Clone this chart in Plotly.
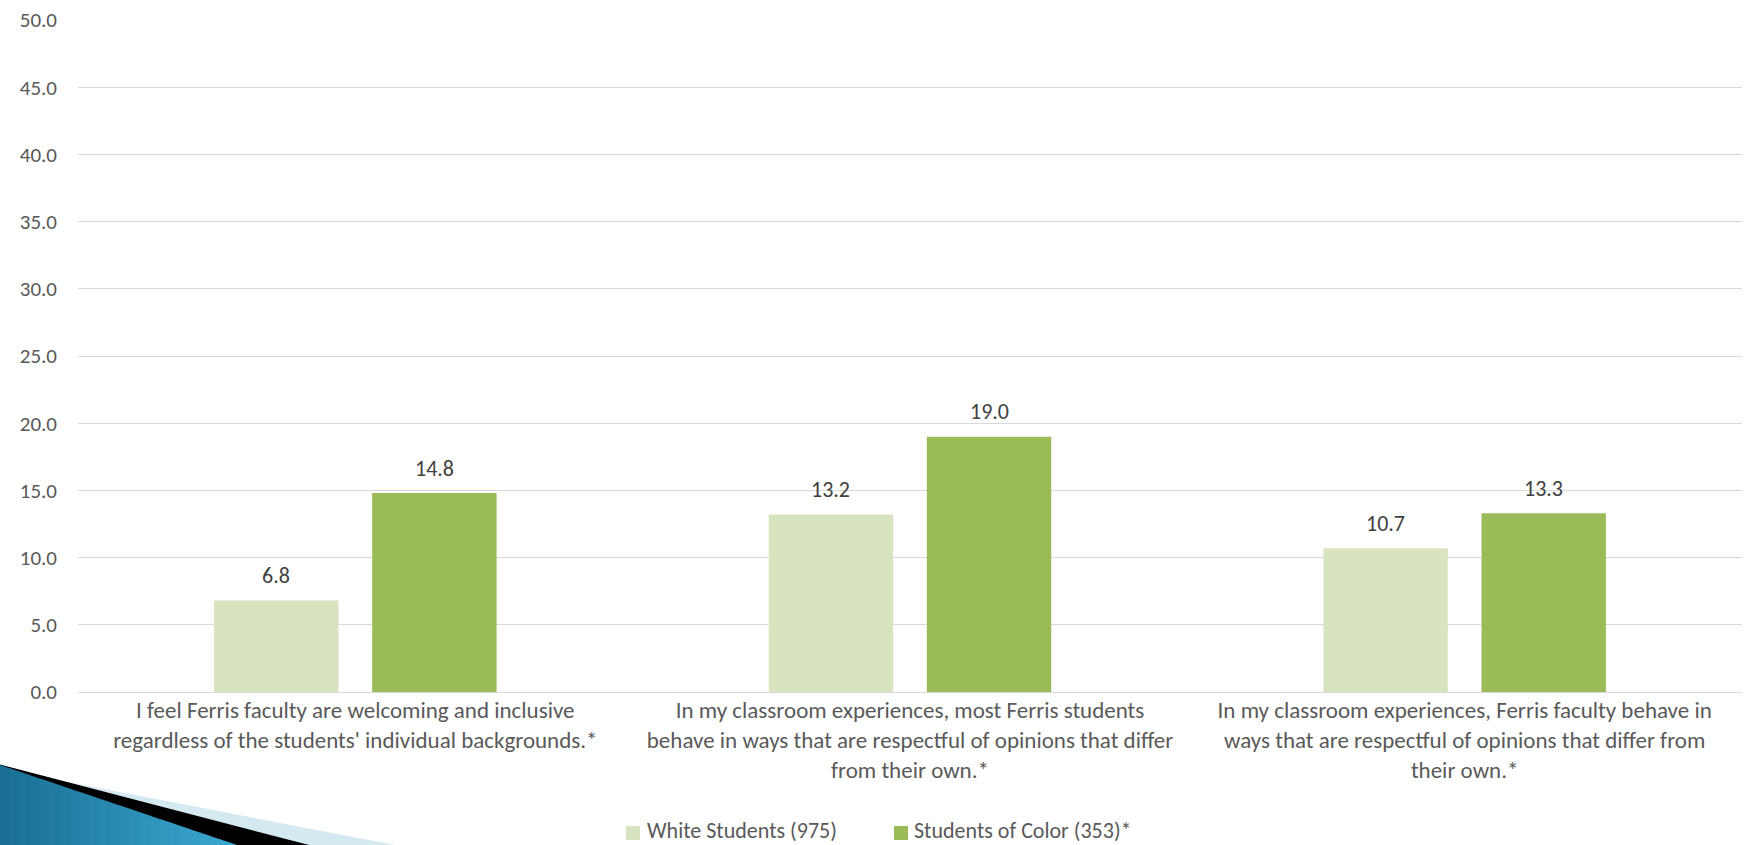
import plotly.graph_objects as go

categories = [
    "I feel Ferris faculty are welcoming and inclusive<br>regardless of the students' individual backgrounds.*",
    "In my classroom experiences, most Ferris students<br>behave in ways that are respectful of opinions that differ<br>from their own.*",
    "In my classroom experiences, Ferris faculty behave in<br>ways that are respectful of opinions that differ from<br>their own.*",
]
series_names = ["White Students (975)", "Students of Color (353)*"]
series_colors = ["#d8e4bf", "#9bbb59"]
white_values = [6.8, 13.2, 10.7]
color_values = [14.8, 19.0, 13.3]
y_ticks = [0, 5, 10, 15, 20, 25, 30, 35, 40, 45, 50]

FONT = "Calibri, Carlito, Lato, sans-serif"
TXT = "#595959"
W, H = 1744, 845
L, R, T, B = 78, 2, 20, 153
PW, PH = W - L - R, H - T - B

fig = go.Figure()
for name, vals, col in zip(series_names, (white_values, color_values), series_colors):
    fig.add_trace(go.Bar(name=name, x=categories, y=vals,
                         marker=dict(color=col, line=dict(width=0))))

bargap, bargroupgap = 0.430, 0.213
slot = PW / len(categories) * (1 - bargap) / 2
annotations = []
for vals, shift in ((white_values, -slot / 2), (color_values, slot / 2)):
    for c, v in zip(categories, vals):
        annotations.append(dict(x=c, y=v, xref="x", yref="y", text=f"{v:.1f}",
                                showarrow=False, xshift=shift, yshift=25,
                                yanchor="middle",
                                font=dict(family=FONT, size=22, color="#404040")))


def px2paper(px, py):
    return (px - L) / PW, (H - B - py) / PH


def poly(points):
    pts = [px2paper(x, y) for x, y in points]
    return "M " + " L ".join(f"{x:.5f},{y:.5f}" for x, y in pts) + " Z"


def blue_top(x):
    return 765 + x * 81 / 240


shapes = [
    dict(type="path", xref="paper", yref="paper", layer="below",
         path=poly([(0, 769), (400, 846), (0, 846)]),
         fillcolor="#d5e9f1", line=dict(width=0)),
    dict(type="path", xref="paper", yref="paper", layer="below",
         path=poly([(0, 764.5), (313, 846), (0, 846)]),
         fillcolor="#000000", line=dict(width=0)),
]


def mix(c0, c1, t):
    a = [int(c0[i:i + 2], 16) for i in (1, 3, 5)]
    b = [int(c1[i:i + 2], 16) for i in (1, 3, 5)]
    return "#" + "".join(f"{round(x + (y - x) * t):02x}" for x, y in zip(a, b))


nb = 24
for i in range(nb):
    x0, x1 = 240 * i / nb, 240 * (i + 1) / nb + 0.6
    x1 = min(x1, 240)
    shapes.append(dict(type="path", xref="paper", yref="paper", layer="below",
                       path=poly([(x0, blue_top(x0)), (x1, blue_top(x1)), (x1, 846), (x0, 846)]),
                       fillcolor=mix("#1a6f94", "#3ba8d2", i / (nb - 1)), line=dict(width=0)))

# legend drawn as markers + labels
legend_marker_x = [626, 894]
legend_text_x = [646, 913]
legend_y = 833
for name, col, mx, tx in zip(series_names, series_colors, legend_marker_x, legend_text_x):
    x0, y0 = px2paper(mx, legend_y + 7)
    x1, y1 = px2paper(mx + 14, legend_y - 7)
    shapes.append(dict(type="rect", xref="paper", yref="paper", x0=x0, y0=y0, x1=x1, y1=y1,
                       fillcolor=col, line=dict(width=0)))
    ax, ay = px2paper(tx, 844.5)
    annotations.append(dict(x=ax, y=ay, xref="paper", yref="paper", text=name,
                            showarrow=False, xanchor="left", yanchor="bottom", borderpad=0,
                            font=dict(family=FONT, size=22, color=TXT)))

fig.update_layout(
    width=W, height=H,
    margin=dict(l=L, r=R, t=T, b=B, pad=0, autoexpand=False),
    plot_bgcolor="white", paper_bgcolor="white",
    barmode="group", bargap=bargap, bargroupgap=bargroupgap,
    font=dict(family=FONT, size=23, color=TXT),
    showlegend=False,
    annotations=annotations,
    shapes=shapes,
)
fig.update_xaxes(showgrid=False, showline=False, ticks="", tickfont=dict(size=23, color=TXT),
                 ticklabelstandoff=2, tickangle=0, automargin=False)
fig.update_yaxes(range=[0, 50], tickvals=y_ticks, ticktext=[f"{v:.1f}" for v in y_ticks],
                 showgrid=True, gridcolor="#d9d9d9", gridwidth=1.3,
                 zeroline=True, zerolinecolor="#d9d9d9", zerolinewidth=1.3,
                 showline=False, ticks="", tickfont=dict(size=21, color=TXT),
                 ticklabelstandoff=20, automargin=False)

fig.write_html("out.html", config={"displayModeBar": False},
               post_script="document.body.style.margin='0';document.body.style.overflow='hidden';")
